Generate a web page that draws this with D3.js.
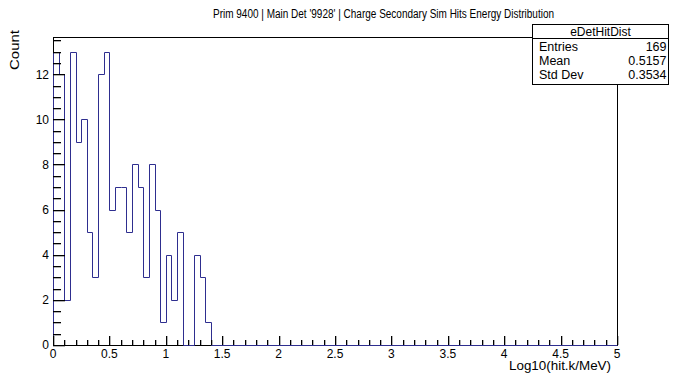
<!DOCTYPE html>
<html><head><meta charset="utf-8">
<script src="https://cdn.jsdelivr.net/npm/d3@7"></script>
<style>
body{margin:0;background:#fff;}
svg{display:block;font-family:"Liberation Sans",Arial,sans-serif;}
</style></head>
<body><svg id="c" width="673" height="375"></svg>
<script>
// ---- data ----
const binWidth = 0.05;
const binStarts = d3.range(0, 28).map(i => +(i * binWidth).toFixed(2)); // first 28 bins (rest are empty)
const binCounts = [13,12,2,13,9,10,5,3,12,13, 6,7,7,5,8,7,3,8,6,1, 4,2,5,0,0,4,3,1];
const xMajorTicks = [0,0.5,1,1.5,2,2.5,3,3.5,4,4.5,5];
const xMinorTicks = [0.1,0.2,0.3,0.4,0.6,0.7,0.8,0.9,1.1,1.2,1.3,1.4,1.6,1.7,1.8,1.9,
  2.1,2.2,2.3,2.4,2.6,2.7,2.8,2.9,3.1,3.2,3.3,3.4,3.6,3.7,3.8,3.9,4.1,4.2,4.3,4.4,4.6,4.7,4.8,4.9];
const yMajorTicks = [0,2,4,6,8,10,12];
const yMinorTicks = [0.5,1,1.5,2.5,3,3.5,4.5,5,5.5,6.5,7,7.5,8.5,9,9.5,10.5,11,11.5,12.5,13,13.5];
const titleText = "Prim 9400 | Main Det '9928' | Charge Secondary Sim Hits Energy Distribution";
const xTitle = "Log10(hit.k/MeV)";
const yTitle = "Count";
const statName = "eDetHitDist";
const statLabels = ["Entries","Mean","Std Dev"];
const statValues = ["169","0.5157","0.3534"];
const xDomain = [0,5];
const yDomain = [0,13.65];

// ---- layout ----
const L = 53, R = 617, T = 37, B = 345;
const svg = d3.select("#c");
const x = d3.scaleLinear().domain(xDomain).range([L, R]);
const y = d3.scaleLinear().domain(yDomain).range([B, T]);
const px = v => Math.round(v) + 0.5;

// frame
svg.append("rect").attr("x", px(L)).attr("y", px(T))
  .attr("width", R - L).attr("height", B - T)
  .attr("fill", "none").attr("stroke", "#000");

// histogram outline
const pts = [[x(0), y(0)]];
binStarts.forEach((s, i) => {
  pts.push([x(s), y(binCounts[i])]);
  pts.push([x(s + binWidth), y(binCounts[i])]);
});
pts.push([x(binStarts[binStarts.length-1] + binWidth), y(0)]);
pts.push([x(xDomain[1]), y(0)]);
svg.append("path")
  .attr("d", d3.line()(pts.map(p => [px(p[0]), px(p[1])])))
  .attr("fill", "none").attr("stroke", "#2e2e8f").attr("stroke-width", 1);

// ticks as filled rects
const ticks = svg.append("g").attr("fill", "#000");
const xTickSpecs = [...xMajorTicks.map(v => [v, 9]), ...xMinorTicks.map(v => [v, 5])];
ticks.selectAll("rect.xtk").data(xTickSpecs).join("rect").attr("class", "xtk")
  .attr("x", d => Math.round(x(d[0]))).attr("y", d => B - d[1]).attr("width", 1.3).attr("height", d => d[1]);
const yTickSpecs = [...yMajorTicks.map(v => [v, 12]), ...yMinorTicks.map(v => [v, 8])];
ticks.selectAll("rect.ytk").data(yTickSpecs).join("rect").attr("class", "ytk")
  .attr("x", L).attr("y", d => Math.round(y(d[0]))).attr("width", d => d[1]).attr("height", 1.3);

// tick labels
const tickFont = "12px";
svg.append("g").selectAll("text").data(xMajorTicks).join("text")
  .attr("x", d => x(d)).attr("y", 357.5).attr("text-anchor", "middle")
  .style("font-size", tickFont).text(d => d3.format("")(d));
svg.append("g").selectAll("text").data(yMajorTicks).join("text")
  .attr("x", 49).attr("y", d => y(d) + 4.3).attr("text-anchor", "end")
  .style("font-size", tickFont).text(d => d);

// titles
svg.append("text").attr("x", 213).attr("y", 17.5)
  .attr("textLength", 341).attr("lengthAdjust", "spacingAndGlyphs")
  .style("font-size", "12px").text(titleText);
svg.append("text").attr("x", 509).attr("y", 370)
  .attr("textLength", 102).attr("lengthAdjust", "spacingAndGlyphs")
  .style("font-size", "12px").text(xTitle);
svg.append("text").attr("transform", "translate(19,70) rotate(-90)")
  .attr("textLength", 40).attr("lengthAdjust", "spacingAndGlyphs")
  .style("font-size", "12.5px").text(yTitle);

// stats box
const bx = 532.5, by = 24.5, bw = 136, bh = 60, hdr = 38.5;
svg.append("rect").attr("x", bx).attr("y", by).attr("width", bw).attr("height", bh)
  .attr("fill", "#fff").attr("stroke", "#000");
svg.append("rect").attr("x", Math.floor(bx)).attr("y", Math.floor(hdr)).attr("width", bw + 1).attr("height", 1).attr("fill", "#000");
svg.append("text").attr("x", bx + bw/2).attr("y", 35.5).attr("text-anchor", "middle")
  .style("font-size", "12px").text(statName);
const rowsY = [51, 65, 79];
statLabels.forEach((lab, i) => {
  svg.append("text").attr("x", 539).attr("y", rowsY[i]).style("font-size", "12.5px").text(lab);
  svg.append("text").attr("x", 666.5).attr("y", rowsY[i]).attr("text-anchor", "end")
    .style("font-size", "12.5px").text(statValues[i]);
});
</script></body></html>
